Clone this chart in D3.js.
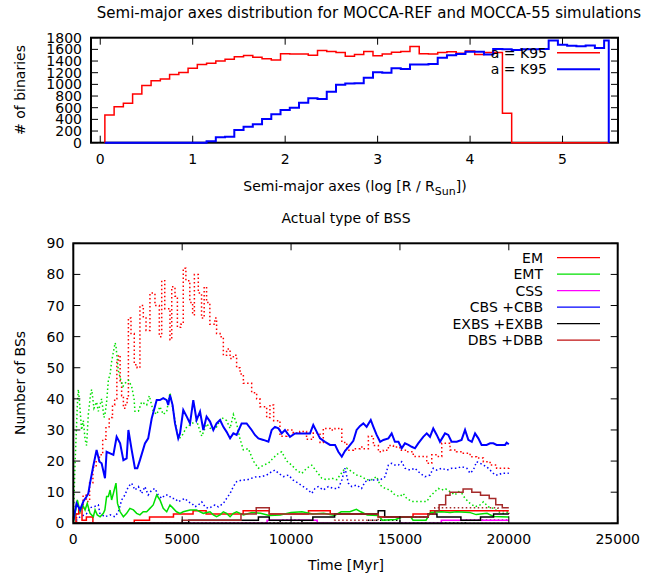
<!DOCTYPE html>
<html>
<head>
<meta charset="utf-8">
<script src="https://cdn.jsdelivr.net/npm/d3@7"></script>
<style>
  body { margin: 0; background: #fff; }
  svg text { font-family: "DejaVu Sans", sans-serif; font-size: 14px; fill: #000; }
</style>
</head>
<body>
<div id="chart"></div>
<script>

// ---- top panel: semi-major axes histograms ----
var binCenters = [0.1, 0.2, 0.3, 0.4, 0.5, 0.6, 0.7, 0.8, 0.9, 1.0,
  1.1, 1.2, 1.3, 1.4, 1.5, 1.6, 1.7, 1.8, 1.9, 2.0,
  2.1, 2.2, 2.3, 2.4, 2.5, 2.6, 2.7, 2.8, 2.9, 3.0,
  3.1, 3.2, 3.3, 3.4, 3.5, 3.6, 3.7, 3.8, 3.9, 4.0,
  4.1, 4.2, 4.3, 4.4, 4.5, 4.6, 4.7, 4.8, 4.9, 5.0,
  5.1, 5.2, 5.3, 5.4, 5.5];
var histEnd = 5.5;
var refCounts = [477, 615, 675, 835, 980, 1060, 1090, 1170, 1205, 1275,
  1340, 1362, 1400, 1430, 1475, 1497, 1465, 1440, 1418, 1525,
  1522, 1520, 1500, 1580, 1565, 1545, 1480, 1510, 1565, 1490,
  1520, 1550, 1565, 1650, 1525, 1520, 1545, 1560, 1535, 1570,
  1510, 1545, 1545, 505, 0, 0, 0, 0, 0, 0,
  0, 0, 0, 0, 0];
var m55Counts = [0, 0, 0, 0, 0, 0, 0, 0, 0, 0,
  0, 25, 92, 103, 218, 274, 315, 406, 486, 560,
  600, 686, 761, 749, 874, 995, 1015, 1020, 1114, 1206,
  1200, 1275, 1265, 1340, 1340, 1350, 1455, 1500, 1520, 1560,
  1560, 1510, 1605, 1600, 1590, 1600, 1600, 1605, 1750, 1680,
  1660, 1655, 1665, 1625, 1750];
var histLabels = ["a = K95", "a = K95"];
var histXTicks = [0, 1, 2, 3, 4, 5];
var histYTicks = [0, 200, 400, 600, 800, 1000, 1200, 1400, 1600, 1800];

// ---- bottom panel: actual type of BSS, [time Myr, number] ----
var typeNames = ["EM", "EMT", "CSS", "CBS +CBB", "EXBS +EXBB", "DBS +DBB"];
var typeXTicks = [0, 5000, 10000, 15000, 20000, 25000];
var typeYTicks = [0, 10, 20, 30, 40, 50, 60, 70, 80, 90];

var emSolid = [[0,0],[120,3],[250,5],[400,1],[600,2],[900,0],[2800,1],[3500,2],[4600,3],[5500,4],[6100,3],
  [7800,4],[9000,3],[10800,4],[11800,3],[14000,2],[15600,3],[16400,4],[20000,4]];
var emDotted = [[0,0],[150,3],[300,5],[450,9],[600,7],[750,13],[900,18],[1050,20],[1200,22],[1350,27],
  [1500,31],[1650,34],[1800,38],[1900,40],[2000,52],[2070,54],[2150,45],[2220,41],[2300,37],[2400,38],
  [2470,40],[2530,66],[2650,61],[2800,51],[2930,50],[3060,70],[3215,66],[3340,62],[3520,74],[3750,70],
  [3950,60],[4060,78],[4200,69],[4440,59],[4520,76],[4670,73],[4780,63],[4930,64],[5050,82],[5170,78],
  [5350,71],[5480,67],[5560,80],[5740,74],[5890,66],[6010,76],[6120,71],[6270,64],[6500,66],[6580,61],
  [6740,60],[6890,54],[7040,56],[7200,53],[7350,54],[7500,50],[7660,48],[7810,45],[8040,45],[8190,42],
  [8420,40],[8570,37.5],[8880,34],[9030,38],[9200,33],[9490,28],[9800,30],[10100,29],[10400,29.5],[10710,27],
  [11020,29],[11330,26],[11480,30.5],[11790,30],[12020,30.5],[12330,26],[12560,23.5],[12860,24],[13170,24.5],[13320,24],
  [13550,28],[13780,25],[14010,23],[14240,23.5],[14470,25],[14700,24.5],[15000,23.5],[15310,23],[15610,21.5],[15920,21.5],
  [16230,19.3],[16460,22],[16690,21.5],[16920,25.7],[17070,25.7],[17300,23.6],[17600,23],[17910,22.5],[18220,21.4],[18520,21],
  [18830,19.8],[19140,18.7],[19440,17.7],[19670,17.7],[20000,18.4]];

var emtSolid = [[0,0],[100,4],[185,7.5],[310,3.7],[430,5.9],[540,4.3],[640,6.4],[770,3.2],[920,2.1],[1000,4.3],
  [1100,2.7],[1230,2.1],[1380,3.2],[1450,4.3],[1530,8.6],[1610,8.6],[1690,10.7],[1760,7.5],[1840,9.6],[1960,12.9],
  [2030,6.4],[2150,3.7],[2300,2.1],[2450,3.2],[2600,4.8],[2760,4.3],[2910,3.2],[3060,2.7],[3210,3.7],[3370,3.7],
  [3520,4.8],[3670,5.9],[3830,9.1],[3980,7.5],[4130,4.8],[4290,3.7],[4440,5.9],[4590,4.8],[4740,3.7],[4900,3.2],
  [5050,3.7],[5360,4.3],[5660,4.3],[5820,3.7],[5970,3.2],[6280,3.7],[6430,2.7],[6580,2.1],[6740,2.7],[6890,3.7],
  [7040,3.2],[7200,2.1],[7350,3.2],[7500,3.7],[7660,3.2],[7810,2.7],[8200,3.5],[8600,3.2],[9000,2.5],[9500,2.7],
  [10000,3.5],[10500,3.7],[11000,3],[11500,3.2],[12000,2.5],[12300,3.7],[12700,3.7],[13000,4.5],[13200,3.7],[13500,2.7],
  [14000,2.5],[14200,1],[14800,1.2],[15100,2],[15500,2],[15600,1],[16200,1],[16400,3.5],[16900,3.7],[17300,3.5],
  [17600,3.7],[18200,3.5],[18500,2.8],[19000,3.2],[19300,2.2],[20000,2]];
var emtDotted = [[0,0],[80,19],[185,38],[230,43],[275,40],[380,30],[460,33],[540,27],[610,25],[690,35],
  [800,42],[845,43],[950,37],[1070,39],[1150,36],[1300,40],[1410,34],[1455,35],[1530,39],[1610,46],
  [1690,48],[1760,52],[1840,55],[1920,58],[1960,57],[2070,49],[2180,46],[2280,44],[2380,45],[2530,46],
  [2680,44],[2790,40],[2830,36],[2990,36],[3140,39],[3370,38],[3490,41],[3670,36],[3830,35],[3980,37.5],
  [4130,35],[4290,36],[4440,42],[4670,33],[4820,27],[4980,28],[5210,31],[5440,32],[5660,33],[5900,28],
  [6130,32],[6350,30],[6580,31],[6810,34],[7040,33],[7200,30.5],[7350,35],[7500,32],[7660,27],[7810,23.6],
  [8040,24],[8270,20],[8500,17.7],[8730,18.7],[8960,19.3],[9180,21],[9420,22.5],[9570,23],[9800,20],[10030,18.7],
  [10260,17],[10490,16],[10720,17.7],[10950,18.7],[11180,16.6],[11410,14.5],[11640,14],[11870,14.5],[12100,14],[12250,15.5],
  [12400,17],[12560,17.7],[12790,16.6],[13010,15.5],[13240,15],[13470,14],[13700,14],[13930,15],[14090,12.3],[14320,11.2],
  [14550,10.7],[14770,9.1],[15000,8.6],[15150,9.6],[15310,8],[15540,7],[15770,7],[16000,7],[16230,7],[16380,8.6],
  [16610,10.2],[16760,11.2],[16920,10.7],[17070,11.2],[17300,10.2],[17530,9.1],[17680,10.2],[17830,9.8],[17990,8],[18220,6.4],
  [18450,5.3],[18680,5.9],[18830,6.9],[19060,5.3],[19290,4.8],[19520,3.7],[19750,3.2],[20000,3.7]];

var cssSolid = [[0,0],[8900,1],[11200,0],[16900,1],[20000,1]];
var cssDotted = [[0,0],[20000,0]];

var cbsSolid = [[0,1],[150,6.4],[310,4.3],[460,7],[610,8.6],[690,9.6],[770,13],[920,18.5],[1070,23.6],[1200,19.8],
  [1300,19.3],[1455,14.5],[1530,23],[1690,22.5],[1840,22],[1990,27.8],[2150,25.7],[2300,20.3],[2450,20.9],[2530,30],
  [2680,23.6],[2830,17.7],[2940,17.7],[3060,20.3],[3290,25.7],[3440,27.3],[3600,33.7],[3830,39.6],[3980,39.6],[4130,40.2],
  [4290,39.6],[4360,38],[4440,41.2],[4560,38],[4670,32.1],[4820,27.3],[4900,28.9],[5050,36.4],[5210,34.3],[5360,32.1],
  [5510,39.6],[5660,33.2],[5820,35.9],[5970,30],[6120,34.3],[6280,32.7],[6430,30],[6580,32.1],[6740,33.2],[6890,31],
  [7040,29.4],[7200,27.3],[7350,28.9],[7500,28.4],[7730,32.1],[7960,32.1],[8190,30],[8340,28.4],[8500,27.3],[8730,26.8],
  [8960,26.2],[9110,30],[9260,31],[9420,30.5],[9570,28.9],[9720,30],[9950,27.8],[10180,28.9],[10410,28.9],[10640,28.9],
  [10870,28.9],[11020,31.6],[11180,29.4],[11330,27.3],[11560,26.2],[11790,25.2],[12020,25.2],[12170,23],[12330,21.4],[12480,23.3],
  [12630,24.5],[12860,26.5],[13010,30],[13170,31.3],[13320,32.1],[13470,31],[13660,33.2],[13780,31],[13930,28.4],[14090,26.2],
  [14240,26.8],[14470,27.3],[14620,28.9],[14770,26.2],[14930,26.2],[15080,24.1],[15230,25.7],[15390,25.2],[15540,24.6],[15690,24.1],
  [15840,25.7],[16070,27.8],[16230,28.9],[16380,27.8],[16530,30.5],[16690,28.4],[16840,26.2],[17070,28.9],[17220,28.4],[17370,26.2],
  [17610,26.2],[17830,26.8],[17990,30],[18140,26.8],[18300,26.2],[18450,28.9],[18600,27.3],[18750,25.2],[18980,25.2],[19140,25.7],
  [19290,25.7],[19440,25.2],[19600,25.2],[19830,25.2],[19900,25.9],[20000,25.4]];
var cbsDotted = [[0,0],[300,2],[600,3],[770,5],[1000,5.5],[1150,5.9],[1220,3.2],[1450,2.1],[1690,2.7],[1910,2.1],
  [2070,3.7],[2220,7.5],[2370,9.1],[2530,11.8],[2680,12.9],[2830,10.7],[2990,11.8],[3140,9.6],[3290,11.8],[3440,9.1],
  [3600,10.7],[3750,11.2],[3900,9.1],[4060,8],[4210,9.1],[4360,9.1],[4520,8],[4670,8],[4820,6.9],[4980,7.5],
  [5130,8],[5280,6.9],[5440,6.4],[5590,5.3],[5740,5.9],[5900,6.9],[6050,5.3],[6200,4.8],[6360,5.3],[6510,5.9],
  [6660,5.3],[6890,6.4],[7040,8],[7200,9.6],[7350,11.8],[7500,13.4],[7730,13.9],[7960,13.9],[8190,14.5],[8420,15],
  [8650,15],[8880,15.5],[9110,16.6],[9260,17.1],[9420,16.1],[9650,15],[9880,15.5],[10100,13.9],[10330,12.9],[10560,11.8],
  [10790,10.7],[10950,9.6],[11100,11.2],[11250,11.8],[11480,10.7],[11710,11.8],[11940,11.2],[12170,11.2],[12330,13.9],[12480,17.7],
  [12630,12.9],[12790,11.8],[13010,12.3],[13240,11.2],[13400,13.4],[13630,13.9],[13860,13.9],[14080,13.9],[14320,15],[14470,18.7],
  [14620,19.3],[14770,18.7],[14930,18.7],[15080,19.8],[15230,17.7],[15460,17.1],[15690,17.7],[15920,16.1],[16150,15],[16380,15.5],
  [16530,17.7],[16690,17.1],[16920,17.7],[17150,17.1],[17380,17.7],[17610,17.7],[17830,18.2],[18070,17.7],[18220,16.1],[18370,17.1],
  [18520,19.8],[18680,19.3],[18830,18.7],[18980,18.2],[19140,17.1],[19370,15.5],[19520,15.5],[19670,16.1],[19900,16.1],[20000,16.1]];

var exbsSolid = [[0,0],[5300,1],[8500,2],[9000,1],[11000,2],[12000,3],[14000,4],[14300,2],[16300,3],[16700,2],
  [17800,1],[18700,2],[19300,3],[20000,3]];
var exbsDotted = [[0,0],[9500,1],[10500,0],[13500,1],[15000,0],[18000,1],[20000,1]];

var dbsSolid = [[0,0],[5000,1],[7700,3],[8400,5],[9000,3],[14000,2],[16300,3],[16600,4],[16800,6],[17100,9],
  [17300,10],[17900,11],[18300,10],[18700,9],[19100,8],[19400,6],[19700,5],[20000,5]];
var dbsDotted = [[0,0],[12000,1],[14000,2],[16300,3],[16600,5],[19500,4],[20000,3]];

function drawCharts(containerSelector) {
  var W = 658, H = 574;
  var svg = d3.select(containerSelector).append("svg")
    .attr("width", W).attr("height", H);

  // ---------- top histogram ----------
  var t = {left: 91, right: 618, top: 37.7, bottom: 142.7};
  var x1 = d3.scaleLinear().domain([-0.1, 5.6]).range([t.left, t.right]);
  var y1 = d3.scaleLinear().domain([0, 1800]).range([t.bottom, t.top]);

  svg.append("text").attr("x", 369).attr("y", 18).attr("text-anchor", "middle")
    .style("font-size", "15px")
    .text("Semi-major axes distribution for MOCCA-REF and MOCCA-55 simulations");

  frame(svg, x1, y1, histXTicks, histYTicks, 7, function(d) { return d; });

  // x label with subscript
  var xl = svg.append("text").attr("x", 355).attr("y", 191).attr("text-anchor", "middle");
  xl.append("tspan").text("Semi-major axes (log [R / R");
  xl.append("tspan").attr("dy", 4).style("font-size", "11px").text("Sun");
  xl.append("tspan").attr("dy", -4).text("])");
  svg.append("text").attr("transform", "translate(25,90) rotate(-90)")
    .attr("text-anchor", "middle").text("# of binaries");

  var stepLine = d3.line().curve(d3.curveStepAfter)
    .x(function(d) { return x1(d[0]); })
    .y(function(d) { return y1(d[1]); });

  function histPoints(counts) {
    var pts = [[binCenters[0] - 0.05, 0]];
    binCenters.forEach(function(c, i) { pts.push([c - 0.05, counts[i]]); });
    pts.push([histEnd, 0]);
    return pts;
  }

  var histSeries = [
    {counts: refCounts, color: "#ff0000", w: 1.5},
    {counts: m55Counts, color: "#0000ff", w: 2}
  ];
  histSeries.forEach(function(s) {
    svg.append("path").datum(histPoints(s.counts))
      .attr("fill", "none").attr("stroke", s.color).attr("stroke-width", s.w)
      .attr("d", stepLine);
  });

  histSeries.forEach(function(s, i) {
    var yy = 52.7 + i * 16.5;
    svg.append("text").attr("x", 547).attr("y", yy).attr("dy", "0.35em")
      .attr("text-anchor", "end").text(histLabels[i]);
    svg.append("line").attr("x1", 557).attr("x2", 600).attr("y1", yy).attr("y2", yy)
      .attr("stroke", s.color).attr("stroke-width", s.w);
  });

  // ---------- bottom time series ----------
  var b = {left: 73.3, right: 617.7, top: 243.3, bottom: 523.3};
  var x2 = d3.scaleLinear().domain([0, 25000]).range([b.left, b.right]);
  var y2 = d3.scaleLinear().domain([0, 90]).range([b.bottom, b.top]);

  svg.append("text").attr("x", 346).attr("y", 223).attr("text-anchor", "middle")
    .text("Actual type of BSS");
  svg.append("text").attr("x", 346).attr("y", 570).attr("text-anchor", "middle")
    .text("Time [Myr]");
  svg.append("text").attr("transform", "translate(25,383) rotate(-90)")
    .attr("text-anchor", "middle").text("Number of BSs");

  svg.append("clipPath").attr("id", "clipB").append("rect")
    .attr("x", b.left).attr("y", b.top)
    .attr("width", b.right - b.left).attr("height", b.bottom - b.top);

  var colors = ["#ff0000", "#00e000", "#ff00ff", "#0000ff", "#000000", "#a52a2a"];
  var legendColors = ["#ff0000", "#00e000", "#ff00ff", "#0000ff", "#000000", "#c01010"];
  var solids = [emSolid, emtSolid, cssSolid, cbsSolid, exbsSolid, dbsSolid];
  var dotteds = [emDotted, emtDotted, cssDotted, cbsDotted, exbsDotted, dbsDotted];
  var stepped = [true, false, true, false, true, true];

  function lineFor(i) {
    return d3.line()
      .curve(stepped[i] ? d3.curveStepAfter : d3.curveLinear)
      .x(function(d) { return x2(d[0]); })
      .y(function(d) { return y2(d[1]); });
  }

  var g = svg.append("g").attr("clip-path", "url(#clipB)");
  dotteds.forEach(function(data, i) {
    g.append("path").datum(data)
      .attr("fill", "none").attr("stroke", colors[i]).attr("stroke-width", 1.5)
      .attr("stroke-dasharray", "1.5,2.5")
      .attr("d", lineFor(i));
  });
  solids.forEach(function(data, i) {
    g.append("path").datum(data)
      .attr("fill", "none").attr("stroke", colors[i])
      .attr("stroke-width", i === 3 ? 2 : 1.5)
      .attr("d", lineFor(i));
  });

  frame(svg, x2, y2, typeXTicks, typeYTicks, 7, function(d) { return d; });

  typeNames.forEach(function(name, i) {
    var yy = 257.7 + i * 16.5;
    svg.append("text").attr("x", 543).attr("y", yy).attr("dy", "0.35em")
      .attr("text-anchor", "end").text(name);
    svg.append("line").attr("x1", 557).attr("x2", 600).attr("y1", yy).attr("y2", yy)
      .attr("stroke", legendColors[i]).attr("stroke-width", 1.2);
  });
}

// gnuplot style box with mirrored inward ticks
function frame(svg, x, y, xt, yt, len, fmt) {
  var x0 = x.range()[0], x1 = x.range()[1], y0 = y.range()[0], y1 = y.range()[1];
  var g = svg.append("g").attr("stroke", "#000").attr("stroke-width", 1);
  xt.forEach(function(v) {
    g.append("line").attr("x1", x(v)).attr("x2", x(v)).attr("y1", y0).attr("y2", y0 - len);
    g.append("line").attr("x1", x(v)).attr("x2", x(v)).attr("y1", y1).attr("y2", y1 + len);
    svg.append("text").attr("x", x(v)).attr("y", y0 + 21).attr("text-anchor", "middle").text(fmt(v));
  });
  yt.forEach(function(v) {
    g.append("line").attr("x1", x0).attr("x2", x0 + len).attr("y1", y(v)).attr("y2", y(v));
    g.append("line").attr("x1", x1).attr("x2", x1 - len).attr("y1", y(v)).attr("y2", y(v));
    svg.append("text").attr("x", x0 - 9).attr("y", y(v)).attr("dy", "0.36em")
      .attr("text-anchor", "end").text(fmt(v));
  });
  svg.append("rect").attr("x", x0).attr("y", y1).attr("width", x1 - x0).attr("height", y0 - y1)
    .attr("fill", "none").attr("stroke", "#000").attr("stroke-width", 2);
}

drawCharts("#chart");
</script>
</body>
</html>
